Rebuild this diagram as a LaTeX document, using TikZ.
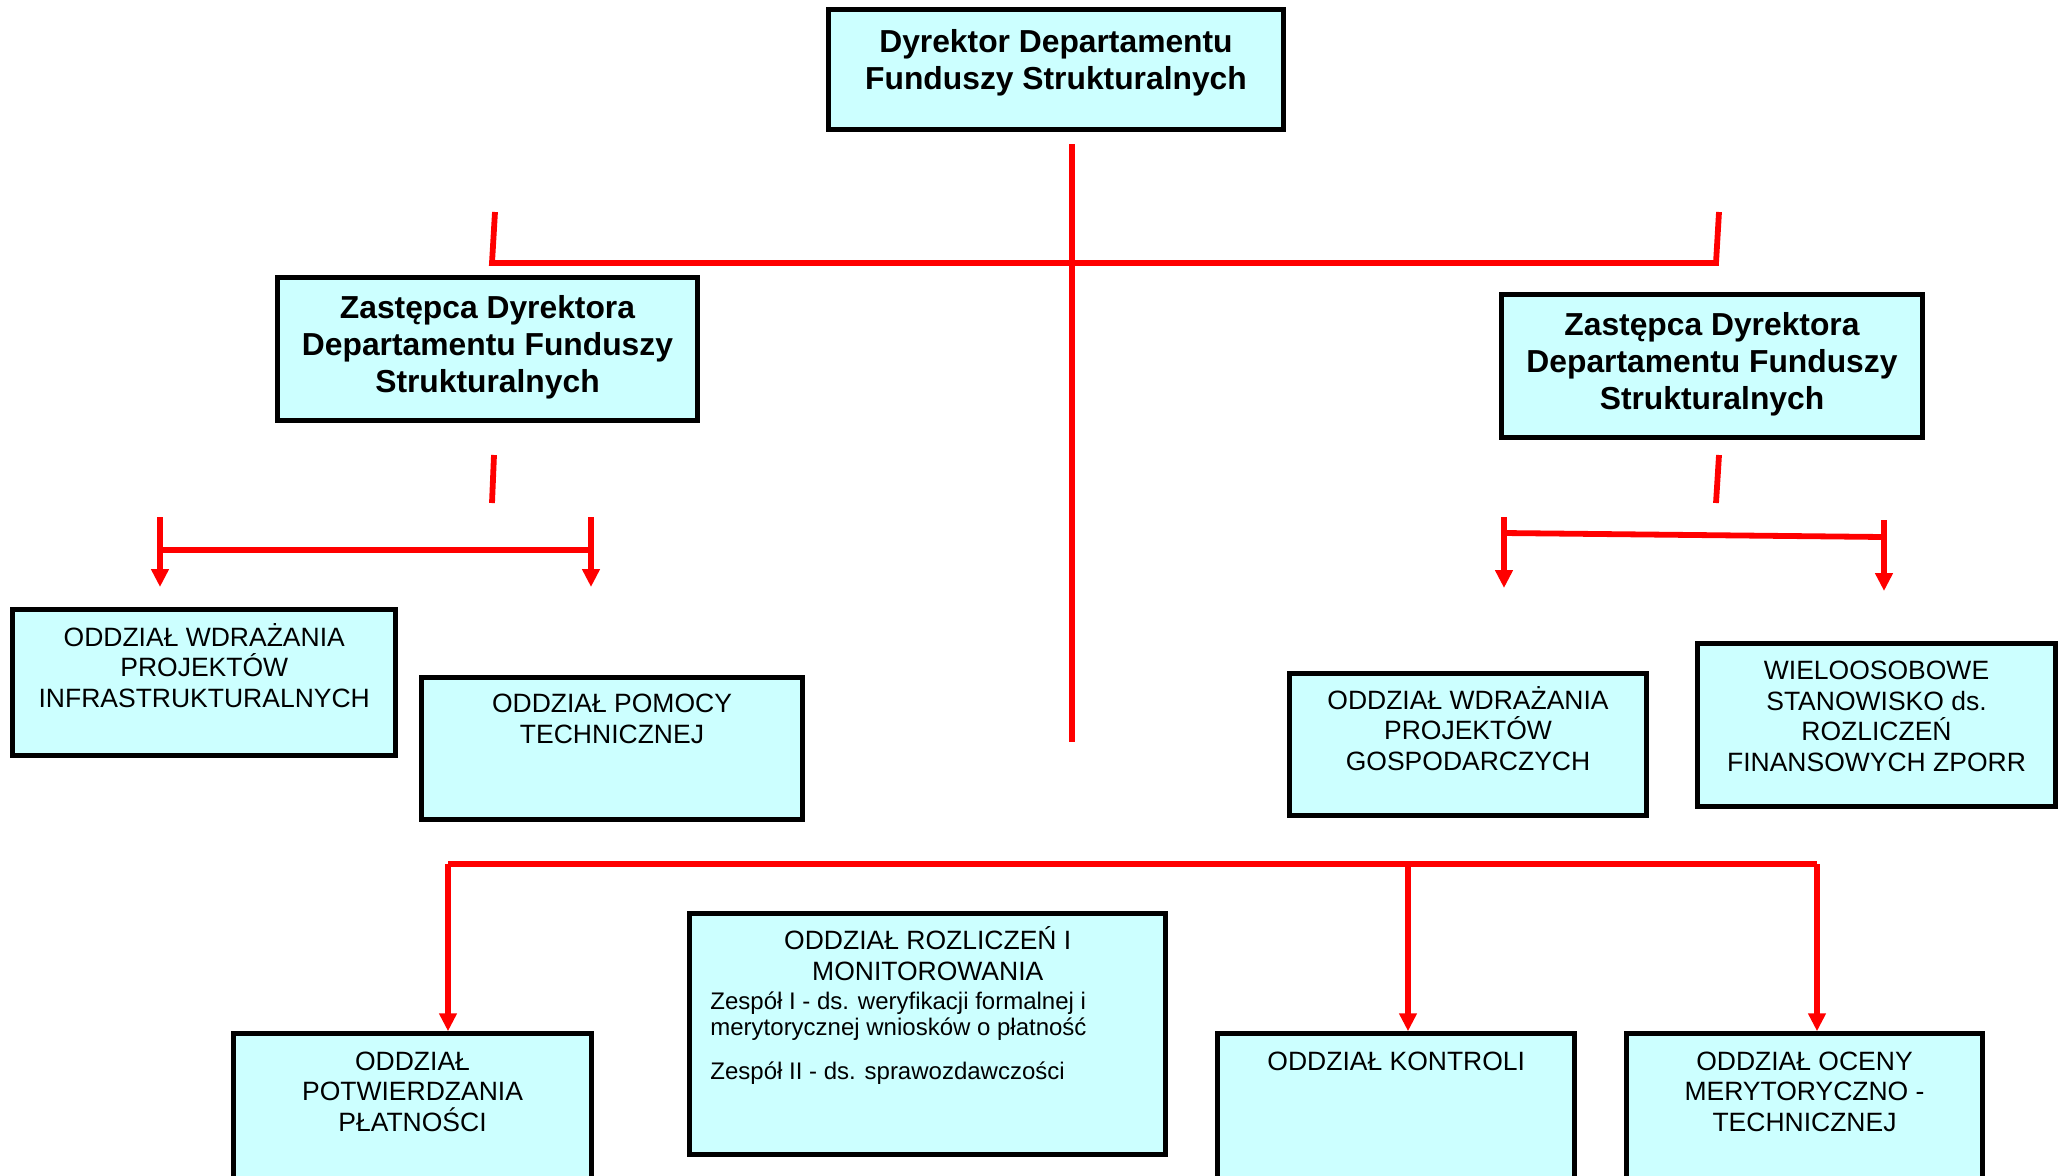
\documentclass[tikz,border=0pt]{standalone}
\usepackage{fontspec}
\setmainfont{Liberation Sans}
\usetikzlibrary{arrows.meta}
\definecolor{boxfill}{HTML}{CCFFFF}
\begin{document}
\begin{tikzpicture}[x=0.5pt,y=-0.5pt,
  orgbox/.style={draw=black, line width=2.5pt, fill=boxfill, inner sep=0pt},
  boldtxt/.style={font=\fontsize{15.9}{18.5}\selectfont\bfseries, align=center, inner sep=0pt, anchor=base},
  regtxt/.style={font=\fontsize{13.25}{15.25}\selectfont, align=center, inner sep=0pt, anchor=base},
  smalltxt/.style={font=\fontsize{12}{13}\selectfont, align=left, inner sep=0pt, anchor=base west},
  redline/.style={draw=red, line width=2.9pt},
  redarrow/.style={draw=red, line width=2.9pt, -{Triangle[length=9pt,width=8.5pt]}}]
\useasboundingbox (0,0) rectangle (2067,1175);
\clip (0,0) rectangle (2067,1175);

% boxes
\node[orgbox, minimum width=227.75pt, minimum height=60.25pt] (dir) at (1056,69.5) {};
\node[orgbox, minimum width=210.25pt, minimum height=71.75pt] (depL) at (487.5,349) {};
\node[orgbox, minimum width=210.75pt, minimum height=71.75pt] (depR) at (1712,366) {};
\node[orgbox, minimum width=191.5pt, minimum height=73.25pt] (bA) at (204.25,682.5) {};
\node[orgbox, minimum width=190.75pt, minimum height=71.25pt] (bB) at (612,748.5) {};
\node[orgbox, minimum width=178.75pt, minimum height=71.25pt] (bC) at (1468,744.5) {};
\node[orgbox, minimum width=179.25pt, minimum height=81.75pt] (bD) at (1876.5,725) {};
\node[orgbox, minimum width=178.75pt, minimum height=87pt] (bE) at (412.5,1120.75) {};
\node[orgbox, minimum width=238pt, minimum height=120.75pt] (bF) at (927.75,1034) {};
\node[orgbox, minimum width=178.5pt, minimum height=87pt] (bG) at (1396.25,1120.75) {};
\node[orgbox, minimum width=178.25pt, minimum height=87pt] (bH) at (1804.5,1120.75) {};

% texts (anchor base = baseline of the last line)
\node[boldtxt] (tdir) at (1056,89) {Dyrektor Departamentu\\Funduszy Strukturalnych};
\node[boldtxt] (tdepL) at (487.5,392) {Zastępca Dyrektora\\Departamentu Funduszy\\Strukturalnych};
\node[boldtxt] (tdepR) at (1712,409) {Zastępca Dyrektora\\Departamentu Funduszy\\Strukturalnych};
\node[regtxt] (tA) at (204.25,707) {ODDZIAŁ WDRAŻANIA\\PROJEKTÓW\\INFRASTRUKTURALNYCH};
\node[regtxt] (tB) at (612,743) {ODDZIAŁ POMOCY\\TECHNICZNEJ};
\node[regtxt] (tC) at (1468,770) {ODDZIAŁ WDRAŻANIA\\PROJEKTÓW\\GOSPODARCZYCH};
\node[regtxt] (tD) at (1876.5,771) {WIELOOSOBOWE\\STANOWISKO ds.\\ROZLICZEŃ\\FINANSOWYCH ZPORR};
\node[regtxt] (tE) at (412.5,1131) {ODDZIAŁ\\POTWIERDZANIA\\PŁATNOŚCI};
\node[regtxt] (tF) at (927.75,980) {ODDZIAŁ ROZLICZEŃ I\\MONITOROWANIA};
\node[smalltxt] (tF2) at (710,1079) {Zespół I - ds. weryfikacji formalnej i\\merytorycznej wniosków o płatność\\[9pt]Zespół II - ds. sprawozdawczości};
\node[regtxt] (tG) at (1396.25,1070) {ODDZIAŁ KONTROLI};
\node[regtxt] (tH) at (1804.5,1131) {ODDZIAŁ OCENY\\MERYTORYCZNO -\\TECHNICZNEJ};

% connector coordinates
\coordinate (stemTop) at (1072,144);
\coordinate (stemBot) at (1072,742);
\coordinate (tL1) at (495,212);
\coordinate (tL2) at (492,263);
\coordinate (tR2) at (1716,263);
\coordinate (tR1) at (1719,212);
\coordinate (sL1) at (494,455);
\coordinate (sL2) at (492,503);
\coordinate (sR1) at (1719,455);
\coordinate (sR2) at (1716,503);
\coordinate (fL1) at (160,517);
\coordinate (fL2) at (591,517);
\coordinate (fLa) at (160,550);
\coordinate (fLb) at (591,550);
\coordinate (fLend1) at (160,587);
\coordinate (fLend2) at (591,587);
\coordinate (fR1) at (1504,517);
\coordinate (fR2) at (1884,520);
\coordinate (fRa) at (1504,533);
\coordinate (fRb) at (1884,537);
\coordinate (fRend1) at (1504,588);
\coordinate (fRend2) at (1884,591);
\coordinate (busL) at (448,864);
\coordinate (busM) at (1408,864);
\coordinate (busR) at (1817,864);

% red lines
\draw[redline] (stemTop) -- (stemBot);
\draw[redline] (tL1) -- (tL2) -- (tR2) -- (tR1);
\draw[redline] (sL1) -- (sL2);
\draw[redline] (sR1) -- (sR2);
\draw[redline] (fLa) -- (fLb);
\draw[redarrow] (fL1) -- (fLend1);
\draw[redarrow] (fL2) -- (fLend2);
\draw[redline] (fRa) -- (fRb);
\draw[redarrow] (fR1) -- (fRend1);
\draw[redarrow] (fR2) -- (fRend2);
\draw[redline] (busL) -- (busR);
\draw[redarrow] (busL) -- (busL |- bE.north);
\draw[redarrow] (busM) -- (busM |- bG.north);
\draw[redarrow] (busR) -- (busR |- bH.north);
\end{tikzpicture}
\end{document}
